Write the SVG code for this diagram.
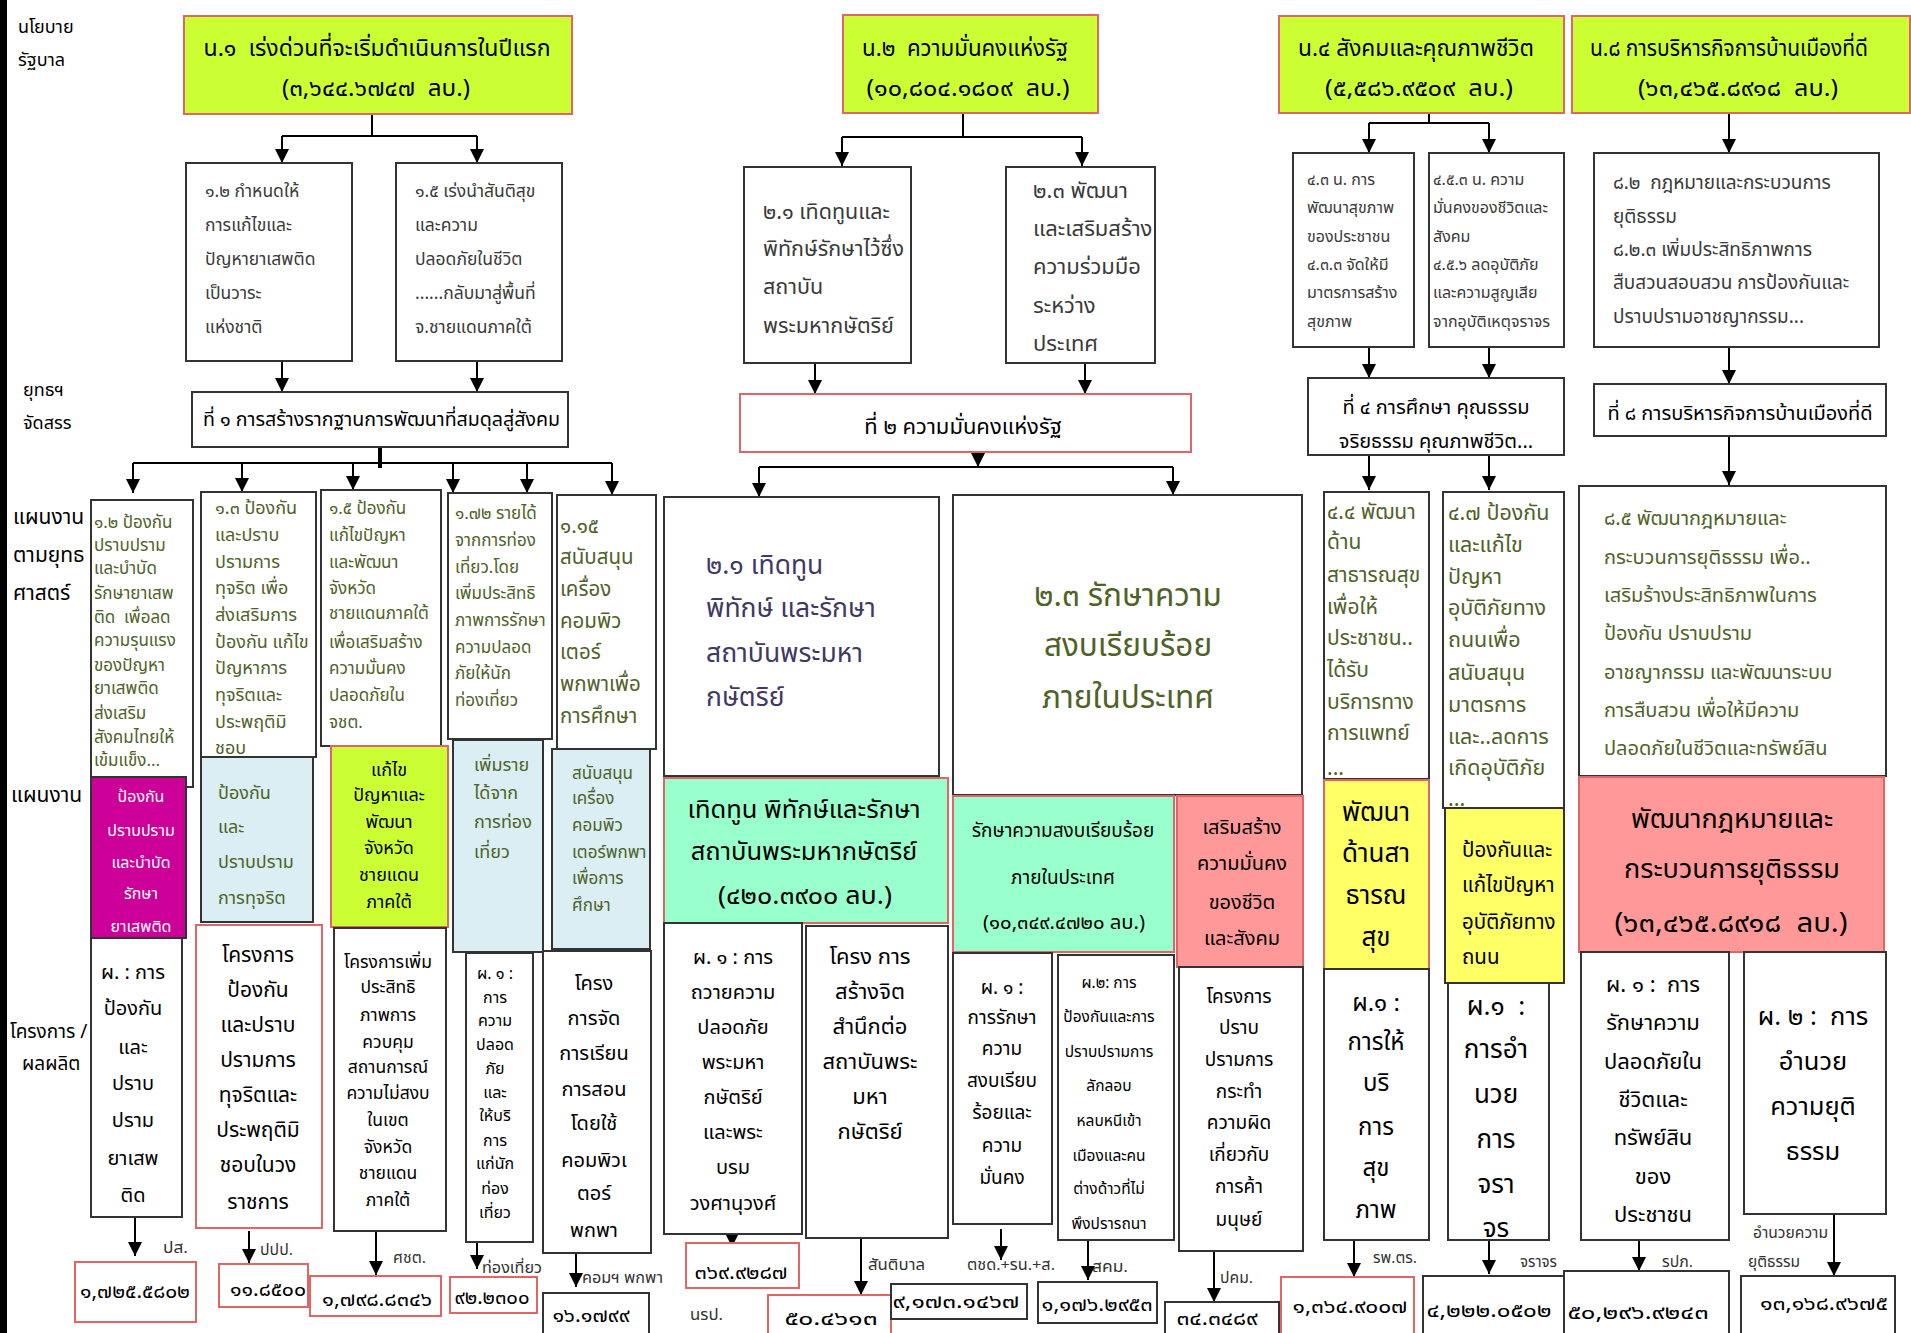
<svg xmlns="http://www.w3.org/2000/svg" width="1911" height="1333" viewBox="0 0 1911 1333">
<style>
text{font-family:Tahoma,"Noto Sans Thai","Noto Sans","DejaVu Sans",sans-serif;fill:#000}
.bx{fill:#fff;stroke:#333;stroke-width:2}
.rb{fill:#fff;stroke:#E06666;stroke-width:2}
.gy{fill:#CCFF33;stroke:#E06666;stroke-width:2}
.lb{fill:#DAEEF3;stroke:#333;stroke-width:2}
.mg{fill:#CC0099;stroke:#333;stroke-width:2}
.gr{fill:#99FFCC;stroke:#E06666;stroke-width:2}
.pk{fill:#FF9999;stroke:#E06666;stroke-width:2}
.yl{fill:#FFFF66;stroke:#E06666;stroke-width:2}
.yk{fill:#FFFF66;stroke:#333;stroke-width:2}
.ln{stroke:#000;stroke-width:2;fill:none}
.ar{stroke:#000;stroke-width:2;fill:none;marker-end:url(#ah)}
.ol{fill:#4F6228}
.gt{fill:#3a3a3a}
.m{text-anchor:middle}
.ag{font-size:15px;fill:#333}
.am{font-size:20px;text-anchor:middle}
</style>
<defs>
<marker id="ah" markerUnits="userSpaceOnUse" markerWidth="14" markerHeight="14" refX="14" refY="7" orient="auto">
<path d="M0,0 L14,7 L0,14 z" fill="#000"/>
</marker>
</defs>
<rect x="0" y="0" width="1911" height="1333" fill="#fff"/>
<rect x="0" y="0" width="7" height="1333" fill="#000"/>

<g id="labels">
<text x="18" y="33" font-size="18" fill="#222">นโยบาย</text>
<text x="18" y="66" font-size="18" fill="#222">รัฐบาล</text>
<text x="23" y="396" font-size="18" fill="#6B8E23">ยุทธฯ</text>
<text x="23" y="429" font-size="18" fill="#6B8E23">จัดสรร</text>
<text x="13" y="524" font-size="21" fill="#FF5A36">แผนงาน</text>
<text x="13" y="562" font-size="21" fill="#FF5A36">ตามยุทธ</text>
<text x="13" y="600" font-size="21" fill="#FF5A36">ศาสตร์</text>
<text x="11" y="802" font-size="21" fill="#FF5A36">แผนงาน</text>
<text x="10" y="1038" font-size="19" fill="#333">โครงการ /</text>
<text x="22" y="1070" font-size="19" fill="#333">ผลผลิต</text>
</g>

<g id="connectors">
<path class="ln" d="M372,114 V136 M282,136 H477 M963,113 V137 M842,137 H1082 M1429,113 V123 M1369,123 H1489"/>
<path class="ar" d="M282,136 V163"/><path class="ar" d="M477,136 V163"/>
<path class="ar" d="M842,137 V166"/><path class="ar" d="M1082,137 V166"/>
<path class="ar" d="M1369,123 V153"/><path class="ar" d="M1489,123 V153"/>
<path class="ar" d="M1729,113 V153"/>
<path class="ar" d="M282,361 V392"/><path class="ar" d="M477,361 V392"/>
<path class="ar" d="M815,363 V394"/><path class="ar" d="M1085,363 V394"/>
<path class="ar" d="M1369,347 V378"/><path class="ar" d="M1489,347 V378"/>
<path class="ar" d="M1729,347 V384"/>
<path d="M380,447 V468" stroke="#000" stroke-width="4"/>
<path class="ln" d="M133,463 H612"/>
<path class="ar" d="M133,463 V493"/><path class="ar" d="M242,463 V492"/><path class="ar" d="M353,463 V490"/>
<path class="ar" d="M453,463 V493"/><path class="ar" d="M527,463 V493"/><path class="ar" d="M612,463 V495"/>
<path class="ar" d="M978,445 V467"/>
<path class="ln" d="M759,467 H1173"/>
<path class="ar" d="M759,467 V497"/><path class="ar" d="M1173,467 V495"/>
<path class="ar" d="M1369,455 V490"/><path class="ar" d="M1489,455 V490"/>
<path class="ar" d="M1729,436 V485"/>
<path class="ar" d="M135,1217 V1256"/>
<path class="ar" d="M249,1231 V1263"/>
<path class="ar" d="M376,1231 V1275"/>
<path class="ar" d="M477,1242 V1269"/>
<path class="ar" d="M576,1253 V1287"/>
<path class="ar" d="M732,1218 V1247"/>
<path class="ar" d="M861,1238 V1295"/>
<path class="ar" d="M1001,1229 V1260"/>
<path class="ar" d="M1088,1240 V1280"/>
<path class="ar" d="M1214,1251 V1302"/>
<path class="ar" d="M1354,1240 V1277"/>
<path class="ar" d="M1489,1240 V1274"/>
<path class="ar" d="M1639,1240 V1271"/>
<path class="ar" d="M1834,1214 V1276"/>
</g>

<g id="n1"><rect class="gy" x="184" y="16" width="388" height="98"/>
<text class="m" x="377" y="56" font-size="23" textLength="347" lengthAdjust="spacingAndGlyphs">น.๑&#160; เร่งด่วนที่จะเริ่มดำเนินการในปีแรก</text>
<text class="m" x="376" y="96" font-size="23" textLength="188" lengthAdjust="spacingAndGlyphs">(๓,๖๔๔.๖๗๔๗&#160; ลบ.)</text></g>
<g id="n2"><rect class="gy" x="843" y="15" width="255" height="98"/>
<text class="m" x="965" y="56" font-size="23" textLength="206" lengthAdjust="spacingAndGlyphs">น.๒&#160; ความมั่นคงแห่งรัฐ</text>
<text class="m" x="968" y="96" font-size="23" textLength="203" lengthAdjust="spacingAndGlyphs">(๑๐,๘๐๔.๑๘๐๙&#160; ลบ.)</text></g>
<g id="n4"><rect class="gy" x="1279" y="16" width="285" height="97"/>
<text class="m" x="1416" y="56" font-size="23" textLength="236" lengthAdjust="spacingAndGlyphs">น.๔ สังคมและคุณภาพชีวิต</text>
<text class="m" x="1419" y="96" font-size="23" textLength="188" lengthAdjust="spacingAndGlyphs">(๕,๕๘๖.๙๕๐๙&#160; ลบ.)</text></g>
<g id="n8"><rect class="gy" x="1572" y="16" width="338" height="97"/>
<text class="m" x="1729" y="56" font-size="23" textLength="278" lengthAdjust="spacingAndGlyphs">น.๘ การบริหารกิจการบ้านเมืองที่ดี</text>
<text class="m" x="1738" y="96" font-size="23" textLength="200" lengthAdjust="spacingAndGlyphs">(๖๓,๔๖๕.๘๙๑๘&#160; ลบ.)</text></g>

<g id="b12"><rect class="bx" x="186" y="163" width="166" height="198"/>
<text class="gt" font-size="17.5"><tspan x="205" y="197">๑.๒ กำหนดให้</tspan><tspan x="205" y="231">การแก้ไขและ</tspan><tspan x="205" y="265">ปัญหายาเสพติด</tspan><tspan x="205" y="299">เป็นวาระ</tspan><tspan x="205" y="333">แห่งชาติ</tspan></text></g>
<g id="b15"><rect class="bx" x="396" y="163" width="166" height="198"/>
<text class="gt" font-size="17.5"><tspan x="415" y="197">๑.๕ เร่งนำสันติสุข</tspan><tspan x="415" y="231">และความ</tspan><tspan x="415" y="265">ปลอดภัยในชีวิต</tspan><tspan x="415" y="299">......กลับมาสู่พื้นที่</tspan><tspan x="415" y="333">จ.ชายแดนภาคใต้</tspan></text></g>
<g id="b21"><rect class="bx" x="744" y="167" width="167" height="196"/>
<text class="gt" font-size="21.5"><tspan x="763" y="219">๒.๑ เทิดทูนและ</tspan><tspan x="763" y="256">พิทักษ์รักษาไว้ซึ่ง</tspan><tspan x="763" y="294">สถาบัน</tspan><tspan x="763" y="333">พระมหากษัตริย์</tspan></text></g>
<g id="b23"><rect class="bx" x="1006" y="167" width="149" height="196"/>
<text class="gt" font-size="22"><tspan x="1033" y="198">๒.๓ พัฒนา</tspan><tspan x="1033" y="236">และเสริมสร้าง</tspan><tspan x="1033" y="274">ความร่วมมือ</tspan><tspan x="1033" y="313">ระหว่าง</tspan><tspan x="1033" y="351">ประเทศ</tspan></text></g>
<g id="b43"><rect class="bx" x="1293" y="153" width="121" height="194"/>
<text class="gt" font-size="16"><tspan x="1307" y="185">๔.๓ น. การ</tspan><tspan x="1307" y="213">พัฒนาสุขภาพ</tspan><tspan x="1307" y="242">ของประชาชน</tspan><tspan x="1307" y="270">๔.๓.๓ จัดให้มี</tspan><tspan x="1307" y="298">มาตรการสร้าง</tspan><tspan x="1307" y="327">สุขภาพ</tspan></text></g>
<g id="b45"><rect class="bx" x="1429" y="153" width="135" height="194"/>
<text class="gt" font-size="16"><tspan x="1433" y="185">๔.๕.๓ น. ความ</tspan><tspan x="1433" y="213">มั่นคงของชีวิตและ</tspan><tspan x="1433" y="242">สังคม</tspan><tspan x="1433" y="270">๔.๕.๖ ลดอุบัติภัย</tspan><tspan x="1433" y="298">และความสูญเสีย</tspan><tspan x="1433" y="327">จากอุบัติเหตุจราจร</tspan></text></g>
<g id="b82"><rect class="bx" x="1594" y="153" width="285" height="194"/>
<text class="gt" font-size="19"><tspan x="1613" y="189">๘.๒&#160; กฎหมายและกระบวนการ</tspan><tspan x="1613" y="223">ยุติธรรม</tspan><tspan x="1613" y="256">๘.๒.๓ เพิ่มประสิทธิภาพการ</tspan><tspan x="1613" y="289">สืบสวนสอบสวน การป้องกันและ</tspan><tspan x="1613" y="323">ปราบปรามอาชญากรรม...</tspan></text></g>

<g id="t1"><rect class="bx" x="192" y="392" width="376" height="55"/>
<text x="203" y="426" font-size="19.5" textLength="357" lengthAdjust="spacingAndGlyphs">ที่ ๑ การสร้างรากฐานการพัฒนาที่สมดุลสู่สังคม</text></g>
<g id="t2"><rect class="rb" x="740" y="394" width="451" height="58"/>
<text class="m" x="963" y="434" font-size="22">ที่ ๒ ความมั่นคงแห่งรัฐ</text></g>
<g id="t4"><rect class="bx" x="1308" y="378" width="256" height="77"/>
<text class="m" font-size="20"><tspan x="1436" y="414">ที่ ๔ การศึกษา คุณธรรม</tspan><tspan x="1436" y="448">จริยธรรม คุณภาพชีวิต...</tspan></text></g>
<g id="t8"><rect class="bx" x="1594" y="384" width="292" height="52"/>
<text class="m" x="1740" y="420" font-size="20">ที่ ๘ การบริหารกิจการบ้านเมืองที่ดี</text></g>

<g id="s12"><rect class="bx" x="91" y="500" width="102" height="287"/>
<text class="ol" font-size="17"><tspan x="94" y="528">๑.๒ ป้องกัน</tspan><tspan x="94" y="551">ปราบปราม</tspan><tspan x="94" y="574">และบำบัด</tspan><tspan x="94" y="599">รักษายาเสพ</tspan><tspan x="94" y="623">ติด&#160; เพื่อลด</tspan><tspan x="94" y="646">ความรุนแรง</tspan><tspan x="94" y="671">ของปัญหา</tspan><tspan x="94" y="694">ยาเสพติด</tspan><tspan x="94" y="719">ส่งเสริม</tspan><tspan x="94" y="743">สังคมไทยให้</tspan><tspan x="94" y="766">เข้มแข็ง...</tspan></text></g>
<g id="s13"><rect class="bx" x="201" y="492" width="115" height="265"/>
<text class="ol" font-size="18"><tspan x="215" y="514">๑.๓ ป้องกัน</tspan><tspan x="215" y="541">และปราบ</tspan><tspan x="215" y="568">ปรามการ</tspan><tspan x="215" y="594">ทุจริต เพื่อ</tspan><tspan x="215" y="621">ส่งเสริมการ</tspan><tspan x="215" y="648">ป้องกัน แก้ไข</tspan><tspan x="215" y="674">ปัญหาการ</tspan><tspan x="215" y="701">ทุจริตและ</tspan><tspan x="215" y="728">ประพฤติมิ</tspan><tspan x="215" y="754">ชอบ</tspan></text></g>
<g id="s15"><rect class="bx" x="321" y="490" width="120" height="256"/>
<text class="ol" font-size="17"><tspan x="329" y="514">๑.๕ ป้องกัน</tspan><tspan x="329" y="541">แก้ไขปัญหา</tspan><tspan x="329" y="568">และพัฒนา</tspan><tspan x="329" y="594">จังหวัด</tspan><tspan x="329" y="619">ชายแดนภาคใต้</tspan><tspan x="329" y="648">เพื่อเสริมสร้าง</tspan><tspan x="329" y="674">ความมั่นคง</tspan><tspan x="329" y="701">ปลอดภัยใน</tspan><tspan x="329" y="728">จชต.</tspan></text></g>
<g id="s172"><rect class="bx" x="448" y="493" width="104" height="246"/>
<text class="ol" font-size="17"><tspan x="455" y="519">๑.๗๒ รายได้</tspan><tspan x="455" y="546">จากการท่อง</tspan><tspan x="455" y="573">เที่ยว.โดย</tspan><tspan x="455" y="599">เพิ่มประสิทธิ</tspan><tspan x="455" y="626">ภาพการรักษา</tspan><tspan x="455" y="653">ความปลอด</tspan><tspan x="455" y="679">ภัยให้นัก</tspan><tspan x="455" y="706">ท่องเที่ยว</tspan></text></g>
<g id="s115"><rect class="bx" x="557" y="495" width="99" height="254"/>
<text class="ol" font-size="20.5"><tspan x="560" y="533">๑.๑๕</tspan><tspan x="560" y="564">สนับสนุน</tspan><tspan x="560" y="596">เครื่อง</tspan><tspan x="560" y="628">คอมพิว</tspan><tspan x="560" y="659">เตอร์</tspan><tspan x="560" y="691">พกพาเพื่อ</tspan><tspan x="560" y="723">การศึกษา</tspan></text></g>
<g id="s21"><rect class="bx" x="664" y="497" width="275" height="279"/>
<text font-size="26.5" style="fill:#403865"><tspan x="706" y="574">๒.๑ เทิดทูน</tspan><tspan x="706" y="617">พิทักษ์ และรักษา</tspan><tspan x="706" y="662">สถาบันพระมหา</tspan><tspan x="706" y="706">กษัตริย์</tspan></text></g>
<g id="s23"><rect class="bx" x="953" y="495" width="349" height="300"/>
<text class="ol m" font-size="31.5"><tspan x="1128" y="606">๒.๓ รักษาความ</tspan><tspan x="1128" y="656">สงบเรียบร้อย</tspan><tspan x="1128" y="708">ภายในประเทศ</tspan></text></g>
<g id="s44"><rect class="bx" x="1324" y="492" width="105" height="287"/>
<text class="ol" font-size="21"><tspan x="1327" y="519">๔.๔ พัฒนา</tspan><tspan x="1327" y="549">ด้าน</tspan><tspan x="1327" y="582">สาธารณสุข</tspan><tspan x="1327" y="614">เพื่อให้</tspan><tspan x="1327" y="645">ประชาชน..</tspan><tspan x="1327" y="677">ได้รับ</tspan><tspan x="1327" y="709">บริการทาง</tspan><tspan x="1327" y="740">การแพทย์</tspan><tspan x="1327" y="775">...</tspan></text></g>
<g id="s47"><rect class="bx" x="1443" y="492" width="121" height="316"/>
<text class="ol" font-size="21.5"><tspan x="1448" y="520">๔.๗ ป้องกัน</tspan><tspan x="1448" y="552">และแก้ไข</tspan><tspan x="1448" y="584">ปัญหา</tspan><tspan x="1448" y="615">อุบัติภัยทาง</tspan><tspan x="1448" y="647">ถนนเพื่อ</tspan><tspan x="1448" y="680">สนับสนุน</tspan><tspan x="1448" y="712">มาตรการ</tspan><tspan x="1448" y="744">และ..ลดการ</tspan><tspan x="1448" y="775">เกิดอุบัติภัย</tspan><tspan x="1448" y="806">...</tspan></text></g>
<g id="s85"><rect class="bx" x="1579" y="486" width="307" height="290"/>
<text class="ol" font-size="20"><tspan x="1604" y="525">๘.๕ พัฒนากฎหมายและ</tspan><tspan x="1604" y="564">กระบวนการยุติธรรม เพื่อ..</tspan><tspan x="1604" y="602">เสริมร้างประสิทธิภาพในการ</tspan><tspan x="1604" y="640">ป้องกัน ปราบปราม</tspan><tspan x="1604" y="679">อาชญากรรม และพัฒนาระบบ</tspan><tspan x="1604" y="717">การสืบสวน เพื่อให้มีความ</tspan><tspan x="1604" y="755">ปลอดภัยในชีวิตและทรัพย์สิน</tspan></text></g>

<g id="k1"><rect class="mg" x="91" y="777" width="95" height="161"/>
<text class="m" font-size="16" style="fill:#fff"><tspan x="141" y="802">ป้องกัน</tspan><tspan x="141" y="836">ปราบปราม</tspan><tspan x="141" y="868">และบำบัด</tspan><tspan x="141" y="899">รักษา</tspan><tspan x="141" y="932">ยาเสพติด</tspan></text></g>
<g id="k2"><rect class="lb" x="201" y="757" width="112" height="165"/>
<text class="ol" font-size="18"><tspan x="218" y="799">ป้องกัน</tspan><tspan x="218" y="833">และ</tspan><tspan x="218" y="868">ปราบปราม</tspan><tspan x="218" y="904">การทุจริต</tspan></text></g>
<g id="k3"><rect class="gy" x="331" y="746" width="117" height="181"/>
<text class="m" font-size="18"><tspan x="389" y="776">แก้ไข</tspan><tspan x="389" y="801">ปัญหาและ</tspan><tspan x="389" y="828">พัฒนา</tspan><tspan x="389" y="854">จังหวัด</tspan><tspan x="389" y="881">ชายแดน</tspan><tspan x="389" y="908">ภาคใต้</tspan></text></g>
<g id="k4"><rect class="lb" x="453" y="740" width="90" height="212"/>
<text class="ol" font-size="18"><tspan x="474" y="771">เพิ่มราย</tspan><tspan x="474" y="799">ได้จาก</tspan><tspan x="474" y="828">การท่อง</tspan><tspan x="474" y="858">เที่ยว</tspan></text></g>
<g id="k5"><rect class="lb" x="552" y="749" width="98" height="200"/>
<text class="ol" font-size="17"><tspan x="572" y="779">สนับสนุน</tspan><tspan x="572" y="804">เครื่อง</tspan><tspan x="572" y="831">คอมพิว</tspan><tspan x="572" y="858">เตอร์พกพา</tspan><tspan x="572" y="884">เพื่อการ</tspan><tspan x="572" y="911">ศึกษา</tspan></text></g>
<g id="k6"><rect class="gr" x="664" y="778" width="284" height="145"/>
<text class="m" font-size="25.5"><tspan x="804" y="818">เทิดทูน พิทักษ์และรักษา</tspan><tspan x="804" y="860">สถาบันพระมหากษัตริย์</tspan></text>
<text class="m" x="805" y="904" font-size="25.5" textLength="174" lengthAdjust="spacingAndGlyphs">(๔๒๐.๓๙๐๐ ลบ.)</text></g>
<g id="k7"><rect class="gr" x="953" y="796" width="221" height="156"/>
<text class="m" font-size="19"><tspan x="1063" y="837">รักษาความสงบเรียบร้อย</tspan><tspan x="1063" y="884">ภายในประเทศ</tspan></text>
<text class="m" x="1064" y="929" font-size="19" textLength="162" lengthAdjust="spacingAndGlyphs">(๑๐,๓๔๙.๔๗๒๐ ลบ.)</text></g>
<g id="k8"><rect class="pk" x="1177" y="796" width="126" height="171"/>
<text class="m" font-size="20"><tspan x="1242" y="834">เสริมสร้าง</tspan><tspan x="1242" y="870">ความมั่นคง</tspan><tspan x="1242" y="909">ของชีวิต</tspan><tspan x="1242" y="945">และสังคม</tspan></text></g>
<g id="k9"><rect class="yl" x="1324" y="780" width="105" height="189"/>
<text class="m" font-size="26"><tspan x="1376" y="821">พัฒนา</tspan><tspan x="1376" y="862">ด้านสา</tspan><tspan x="1376" y="904">ธารณ</tspan><tspan x="1376" y="946">สุข</tspan></text></g>
<g id="k10"><rect class="yk" x="1445" y="808" width="119" height="175"/>
<text font-size="20.5"><tspan x="1462" y="857">ป้องกันและ</tspan><tspan x="1462" y="892">แก้ไขปัญหา</tspan><tspan x="1462" y="929">อุบัติภัยทาง</tspan><tspan x="1462" y="964">ถนน</tspan></text></g>
<g id="k11"><rect class="pk" x="1579" y="777" width="305" height="175"/>
<text class="m" font-size="27"><tspan x="1732" y="828">พัฒนากฎหมายและ</tspan><tspan x="1732" y="878">กระบวนการยุติธรรม</tspan></text>
<text class="m" x="1731" y="932" font-size="27" textLength="233" lengthAdjust="spacingAndGlyphs">(๖๓,๔๖๕.๘๙๑๘&#160; ลบ.)</text></g>

<g id="p1"><rect class="bx" x="91" y="938" width="91" height="279"/>
<text class="m" font-size="20"><tspan x="133" y="979">ผ. : การ</tspan><tspan x="133" y="1015">ป้องกัน</tspan><tspan x="133" y="1054">และ</tspan><tspan x="133" y="1090">ปราบ</tspan><tspan x="133" y="1127">ปราม</tspan><tspan x="133" y="1165">ยาเสพ</tspan><tspan x="133" y="1202">ติด</tspan></text></g>
<g id="p2"><rect class="rb" x="196" y="925" width="126" height="303"/>
<text class="m" font-size="21"><tspan x="258" y="962">โครงการ</tspan><tspan x="258" y="997">ป้องกัน</tspan><tspan x="258" y="1032">และปราบ</tspan><tspan x="258" y="1067">ปรามการ</tspan><tspan x="258" y="1102">ทุจริตและ</tspan><tspan x="258" y="1137">ประพฤติมิ</tspan><tspan x="258" y="1172">ชอบในวง</tspan><tspan x="258" y="1209">ราชการ</tspan></text></g>
<g id="p3"><rect class="bx" x="334" y="928" width="112" height="303"/>
<text class="m" font-size="17.5"><tspan x="388" y="968">โครงการเพิ่ม</tspan><tspan x="388" y="993">ประสิทธิ</tspan><tspan x="388" y="1021">ภาพการ</tspan><tspan x="388" y="1048">ควบคุม</tspan><tspan x="388" y="1073">สถานการณ์</tspan><tspan x="388" y="1099">ความไม่สงบ</tspan><tspan x="388" y="1126">ในเขต</tspan><tspan x="388" y="1153">จังหวัด</tspan><tspan x="388" y="1179">ชายแดน</tspan><tspan x="388" y="1206">ภาคใต้</tspan></text></g>
<g id="p4"><rect class="bx" x="466" y="953" width="67" height="289"/>
<text class="m" font-size="16"><tspan x="495" y="979">ผ. ๑ :</tspan><tspan x="495" y="1003">การ</tspan><tspan x="495" y="1026">ความ</tspan><tspan x="495" y="1050">ปลอด</tspan><tspan x="495" y="1074">ภัย</tspan><tspan x="495" y="1098">และ</tspan><tspan x="495" y="1121">ให้บริ</tspan><tspan x="495" y="1146">การ</tspan><tspan x="495" y="1169">แก่นัก</tspan><tspan x="495" y="1194">ท่อง</tspan><tspan x="495" y="1218">เที่ยว</tspan></text></g>
<g id="p5"><rect class="bx" x="543" y="951" width="108" height="302"/>
<text class="m" font-size="20"><tspan x="594" y="990">โครง</tspan><tspan x="594" y="1025">การจัด</tspan><tspan x="594" y="1060">การเรียน</tspan><tspan x="594" y="1096">การสอน</tspan><tspan x="594" y="1130">โดยใช้</tspan><tspan x="594" y="1167">คอมพิวเ</tspan><tspan x="594" y="1200">ตอร์</tspan><tspan x="594" y="1237">พกพา</tspan></text></g>
<g id="p6"><rect class="bx" x="664" y="923" width="138" height="311"/>
<text class="m" font-size="20"><tspan x="733" y="964">ผ. ๑ : การ</tspan><tspan x="733" y="999">ถวายความ</tspan><tspan x="733" y="1034">ปลอดภัย</tspan><tspan x="733" y="1069">พระมหา</tspan><tspan x="733" y="1104">กษัตริย์</tspan><tspan x="733" y="1139">และพระ</tspan><tspan x="733" y="1174">บรม</tspan><tspan x="733" y="1210">วงศานุวงศ์</tspan></text></g>
<g id="p7"><rect class="bx" x="806" y="926" width="142" height="312"/>
<text class="m" font-size="22"><tspan x="870" y="964">โครง การ</tspan><tspan x="870" y="999">สร้างจิต</tspan><tspan x="870" y="1034">สำนึกต่อ</tspan><tspan x="870" y="1069">สถาบันพระ</tspan><tspan x="870" y="1104">มหา</tspan><tspan x="870" y="1139">กษัตริย์</tspan></text></g>
<g id="p8"><rect class="bx" x="953" y="953" width="99" height="271"/>
<text class="m" font-size="19"><tspan x="1002" y="994">ผ. ๑ :</tspan><tspan x="1002" y="1024">การรักษา</tspan><tspan x="1002" y="1055">ความ</tspan><tspan x="1002" y="1087">สงบเรียบ</tspan><tspan x="1002" y="1119">ร้อยและ</tspan><tspan x="1002" y="1152">ความ</tspan><tspan x="1002" y="1184">มั่นคง</tspan></text></g>
<g id="p9"><rect class="bx" x="1058" y="955" width="116" height="285"/>
<text class="m" font-size="15.5"><tspan x="1109" y="988">ผ.๒: การ</tspan><tspan x="1109" y="1022">ป้องกันและการ</tspan><tspan x="1109" y="1057">ปราบปรามการ</tspan><tspan x="1109" y="1091">ลักลอบ</tspan><tspan x="1109" y="1126">หลบหนีเข้า</tspan><tspan x="1109" y="1161">เมืองและคน</tspan><tspan x="1109" y="1194">ต่างด้าวที่ไม่</tspan><tspan x="1109" y="1229">พึงปรารถนา</tspan></text></g>
<g id="p10"><rect class="bx" x="1179" y="967" width="124" height="284"/>
<text class="m" font-size="19"><tspan x="1239" y="1003">โครงการ</tspan><tspan x="1239" y="1034">ปราบ</tspan><tspan x="1239" y="1066">ปรามการ</tspan><tspan x="1239" y="1098">กระทำ</tspan><tspan x="1239" y="1129">ความผิด</tspan><tspan x="1239" y="1161">เกี่ยวกับ</tspan><tspan x="1239" y="1193">การค้า</tspan><tspan x="1239" y="1226">มนุษย์</tspan></text></g>
<g id="p11"><rect class="bx" x="1324" y="969" width="105" height="271"/>
<text class="m" font-size="24"><tspan x="1376" y="1011">ผ.๑ :</tspan><tspan x="1376" y="1050">การให้</tspan><tspan x="1376" y="1091">บริ</tspan><tspan x="1376" y="1135">การ</tspan><tspan x="1376" y="1176">สุข</tspan><tspan x="1376" y="1218">ภาพ</tspan></text></g>
<g id="p12"><rect class="bx" x="1448" y="983" width="101" height="257"/>
<text class="m" font-size="26"><tspan x="1496" y="1015">ผ.๑&#160; :</tspan><tspan x="1496" y="1058">การอำ</tspan><tspan x="1496" y="1103">นวย</tspan><tspan x="1496" y="1148">การ</tspan><tspan x="1496" y="1193">จรา</tspan><tspan x="1496" y="1237">จร</tspan></text></g>
<g id="p13"><rect class="bx" x="1581" y="952" width="148" height="288"/>
<text class="m" font-size="22"><tspan x="1653" y="992">ผ. ๑ :&#160; การ</tspan><tspan x="1653" y="1030">รักษาความ</tspan><tspan x="1653" y="1069">ปลอดภัยใน</tspan><tspan x="1653" y="1107">ชีวิตและ</tspan><tspan x="1653" y="1145">ทรัพย์สิน</tspan><tspan x="1653" y="1184">ของ</tspan><tspan x="1653" y="1222">ประชาชน</tspan></text></g>
<g id="p14"><rect class="bx" x="1744" y="952" width="142" height="262"/>
<text class="m" font-size="25.5"><tspan x="1813" y="1025">ผ. ๒ :&#160; การ</tspan><tspan x="1813" y="1070">อำนวย</tspan><tspan x="1813" y="1115">ความยุติ</tspan><tspan x="1813" y="1160">ธรรม</tspan></text></g>

<g id="agencies">
<text class="ag" x="163" y="1253" textLength="25" lengthAdjust="spacingAndGlyphs">ปส.</text>
<text class="ag" x="260" y="1255" textLength="33" lengthAdjust="spacingAndGlyphs">ปปป.</text>
<text class="ag" x="393" y="1263" textLength="33" lengthAdjust="spacingAndGlyphs">ศชต.</text>
<text class="ag" x="482" y="1273" textLength="60" lengthAdjust="spacingAndGlyphs">ท่องเที่ยว</text>
<text class="ag" x="582" y="1283" textLength="81" lengthAdjust="spacingAndGlyphs">คอมฯ พกพา</text>
<text class="ag" x="690" y="1320" textLength="33" lengthAdjust="spacingAndGlyphs">นรป.</text>
<text class="ag" x="868" y="1270" textLength="57" lengthAdjust="spacingAndGlyphs">สันติบาล</text>
<text class="ag" x="967" y="1270" textLength="88" lengthAdjust="spacingAndGlyphs">ตชด.+รน.+ส.</text>
<text class="ag" x="1092" y="1272" textLength="36" lengthAdjust="spacingAndGlyphs">สคม.</text>
<text class="ag" x="1220" y="1283" textLength="33" lengthAdjust="spacingAndGlyphs">ปคม.</text>
<text class="ag" x="1373" y="1263" textLength="44" lengthAdjust="spacingAndGlyphs">รพ.ตร.</text>
<text class="ag" x="1520" y="1267" textLength="37" lengthAdjust="spacingAndGlyphs">จราจร</text>
<text class="ag" x="1662" y="1267" textLength="31" lengthAdjust="spacingAndGlyphs">รปภ.</text>
<text class="ag" x="1753" y="1238" textLength="75" lengthAdjust="spacingAndGlyphs">อำนวยความ</text>
<text class="ag" x="1748" y="1267" textLength="52" lengthAdjust="spacingAndGlyphs">ยุติธรรม</text>
</g>

<g id="a1"><rect class="rb" x="75" y="1262" width="121" height="60"/><text class="am" x="135" y="1298" textLength="110" lengthAdjust="spacingAndGlyphs">๑,๗๒๕.๕๘๐๒</text></g>
<g id="a2"><rect class="rb" x="219" y="1264" width="89" height="43"/><text class="am" x="268" y="1296" textLength="76" lengthAdjust="spacingAndGlyphs">๑๑.๘๕๐๐</text></g>
<g id="a3"><rect class="rb" x="310" y="1276" width="131" height="40"/><text class="am" x="377" y="1306" textLength="110" lengthAdjust="spacingAndGlyphs">๑,๗๙๘.๘๓๔๖</text></g>
<g id="a4"><rect class="rb" x="450" y="1277" width="87" height="36"/><text class="am" x="492" y="1304" textLength="75" lengthAdjust="spacingAndGlyphs">๙๒.๒๓๐๐</text></g>
<g id="a5"><rect class="bx" x="543" y="1293" width="106" height="50"/><text class="am" x="591" y="1322" textLength="77" lengthAdjust="spacingAndGlyphs">๑๖.๑๗๙๙</text></g>
<g id="a6"><rect class="rb" x="686" y="1243" width="113" height="45"/><text class="am" x="741" y="1279" textLength="93" lengthAdjust="spacingAndGlyphs">๓๖๙.๙๒๘๗</text></g>
<g id="a7"><rect class="rb" x="768" y="1295" width="123" height="48"/><text class="am" x="831" y="1325" font-size="21" textLength="93" lengthAdjust="spacingAndGlyphs">๕๐.๔๖๑๓</text></g>
<g id="a8"><rect class="bx" x="891" y="1284" width="136" height="35"/><text class="am" x="956" y="1308" textLength="127" lengthAdjust="spacingAndGlyphs">๙,๑๗๓.๑๔๖๗</text></g>
<g id="a9"><rect class="bx" x="1038" y="1282" width="119" height="41"/><text class="am" x="1097" y="1311" textLength="111" lengthAdjust="spacingAndGlyphs">๑,๑๗๖.๒๙๕๓</text></g>
<g id="a10"><rect class="bx" x="1165" y="1302" width="114" height="41"/><text class="am" x="1217" y="1325" font-size="17" textLength="81" lengthAdjust="spacingAndGlyphs">๓๔.๓๔๘๙</text></g>
<g id="a11"><rect class="rb" x="1281" y="1277" width="133" height="66"/><text class="am" x="1350" y="1313" font-size="22" textLength="115" lengthAdjust="spacingAndGlyphs">๑,๓๖๔.๙๐๐๗</text></g>
<g id="a12"><rect class="bx" x="1423" y="1276" width="141" height="67"/><text class="am" x="1489" y="1317" font-size="23" textLength="125" lengthAdjust="spacingAndGlyphs">๔,๒๒๒.๐๕๐๒</text></g>
<g id="a13"><rect class="bx" x="1564" y="1271" width="165" height="72"/><text class="am" x="1638" y="1319" font-size="24" textLength="141" lengthAdjust="spacingAndGlyphs">๕๐,๒๙๖.๙๒๔๓</text></g>
<g id="a14"><rect class="bx" x="1741" y="1276" width="154" height="67"/><text class="am" x="1824" y="1310" font-size="23" textLength="128" lengthAdjust="spacingAndGlyphs">๑๓,๑๖๘.๙๖๗๕</text></g>
</svg>
